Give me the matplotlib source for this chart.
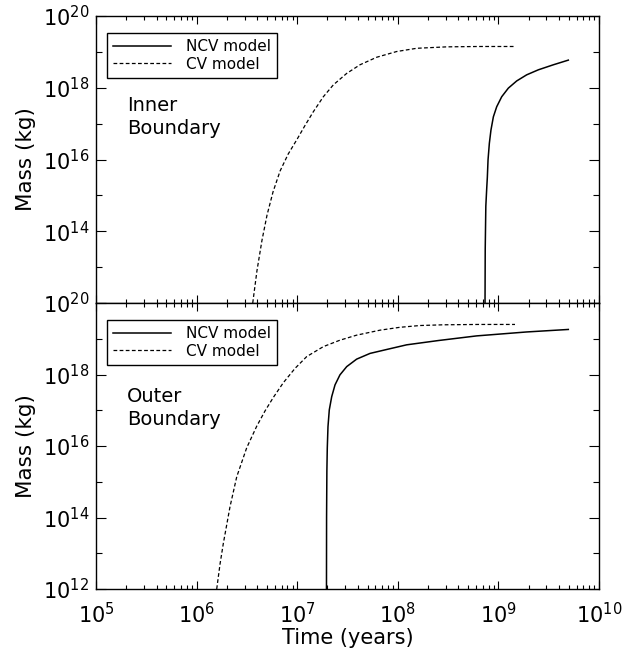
import matplotlib
matplotlib.use("Agg")
import numpy as np
import matplotlib.pyplot as plt
from matplotlib.ticker import LogLocator, NullFormatter, FixedLocator

plt.rcParams['font.family'] = ['DejaVu Sans']
plt.rcParams['mathtext.fontset'] = 'dejavusans'

# log10(time / years) and log10(mass / kg) for each model

# Inner boundary
inner_cv_logt = [6.558, 6.60, 6.65, 6.70, 6.76, 6.83, 6.91, 7.0, 7.078, 7.16, 7.26,
                 7.359, 7.492, 7.624, 7.79, 7.989, 8.188, 8.486, 8.80, 9.17]
inner_cv_logm = [12.0, 12.9, 13.75, 14.45, 15.1, 15.68, 16.15, 16.57, 16.95, 17.33, 17.75,
                 18.08, 18.40, 18.64, 18.85, 19.01, 19.10, 19.14, 19.15, 19.15]

inner_ncv_logt = [8.867, 8.869, 8.875, 8.884, 8.890, 8.897, 8.910, 8.926, 8.950, 8.983, 9.033,
                  9.099, 9.182, 9.281, 9.397, 9.546, 9.695]
inner_ncv_logm = [12.0, 13.5, 14.7, 15.2, 15.5, 15.99, 16.45, 16.82, 17.19, 17.47, 17.75,
                  17.99, 18.19, 18.36, 18.50, 18.64, 18.77]

# Outer boundary
outer_cv_logt = [6.20, 6.233, 6.266, 6.332, 6.399, 6.498, 6.597, 6.68, 6.763, 6.862, 6.978,
                 7.094, 7.26, 7.425, 7.59, 7.823, 8.02, 8.22, 8.45, 8.80, 9.165]
outer_cv_logm = [12.0, 12.7, 13.28, 14.30, 15.14, 15.95, 16.55, 16.98, 17.36, 17.77, 18.17,
                 18.50, 18.78, 18.96, 19.10, 19.24, 19.32, 19.37, 19.39, 19.40, 19.40]

outer_ncv_logt = [7.291, 7.292, 7.295, 7.299, 7.306, 7.319, 7.343, 7.376, 7.425, 7.492, 7.591,
                  7.724, 7.890, 8.088, 8.403, 8.784, 9.281, 9.695]
outer_ncv_logm = [12.0, 14.0, 15.3, 15.94, 16.54, 17.01, 17.38, 17.71, 17.99, 18.22, 18.43,
                  18.59, 18.70, 18.83, 18.95, 19.08, 19.19, 19.26]

panel_labels = ["Inner\nBoundary", "Outer\nBoundary"]
legend_labels = ["NCV model", "CV model"]

W, H = 634, 651
fig = plt.figure(figsize=(W / 100, H / 100), dpi=100)

left, right = 96 / W, 599 / W
y_top, y_mid, y_bot = 1 - 16 / H, 1 - 303 / H, 1 - 589 / H
ax_top = fig.add_axes([left, y_mid, right - left, y_top - y_mid])
ax_bot = fig.add_axes([left, y_bot, right - left, y_mid - y_bot])

series = [
    (inner_ncv_logt, inner_ncv_logm, inner_cv_logt, inner_cv_logm),
    (outer_ncv_logt, outer_ncv_logm, outer_cv_logt, outer_cv_logm),
]

for i, (ax, (nt, nm, ct, cm)) in enumerate(zip([ax_top, ax_bot], series)):
    ax.set_xscale('log')
    ax.set_yscale('log')
    ax.plot(10 ** np.asarray(nt), 10 ** np.asarray(nm), color='black', lw=1.1,
            solid_joinstyle='round', label=legend_labels[0])
    ax.plot(10 ** np.asarray(ct), 10 ** np.asarray(cm), color='black', lw=0.9,
            dashes=(3, 1.9), label=legend_labels[1])
    ax.set_xlim(1e5, 1e10)
    ax.set_ylim(1e12, 1e20)

    ax.xaxis.set_major_locator(LogLocator(base=10, numticks=20))
    ax.xaxis.set_minor_locator(LogLocator(base=10, subs=range(2, 10), numticks=50))
    ax.xaxis.set_minor_formatter(NullFormatter())
    ax.yaxis.set_major_locator(FixedLocator([1e12, 1e14, 1e16, 1e18, 1e20]))
    ax.yaxis.set_minor_locator(FixedLocator([1e13, 1e15, 1e17, 1e19]))
    ax.yaxis.set_minor_formatter(NullFormatter())

    ax.tick_params(which='both', direction='in', top=True, right=True, width=0.8,
                   labelsize=15, colors='black')
    ax.tick_params(axis='y', which='major', length=7.2, pad=5)
    ax.tick_params(axis='y', which='minor', length=4)
    ax.tick_params(axis='x', which='major', length=5.5, pad=9)
    ax.tick_params(axis='x', which='minor', length=3)
    for s in ax.spines.values():
        s.set_linewidth(1.0)

    ax.set_ylabel("Mass (kg)", fontsize=15.5, labelpad=5)

    leg = ax.legend(loc='upper left', bbox_to_anchor=(0.021, 0.94), fontsize=11,
                    frameon=True, fancybox=False, edgecolor='black', framealpha=1,
                    handlelength=3.8, handletextpad=1.0, borderpad=0.4,
                    labelspacing=0.15, borderaxespad=0)
    leg.get_frame().set_linewidth(1.0)

    ax.text(0.062, 0.72 if i == 0 else 0.705, panel_labels[i], transform=ax.transAxes,
            fontsize=14, va='top', ha='left', linespacing=1.25)

ax_top.tick_params(axis='x', labelbottom=False)
# the lowest label of the top panel is carried by the lower panel
fig.canvas.draw()
for lab, loc in zip(ax_top.get_yticklabels(), ax_top.get_yticks()):
    if loc < 1e13:
        lab.set_visible(False)

ax_bot.set_xlabel("Time (years)", fontsize=15, labelpad=1)

fig.savefig("out.png", dpi=100)
